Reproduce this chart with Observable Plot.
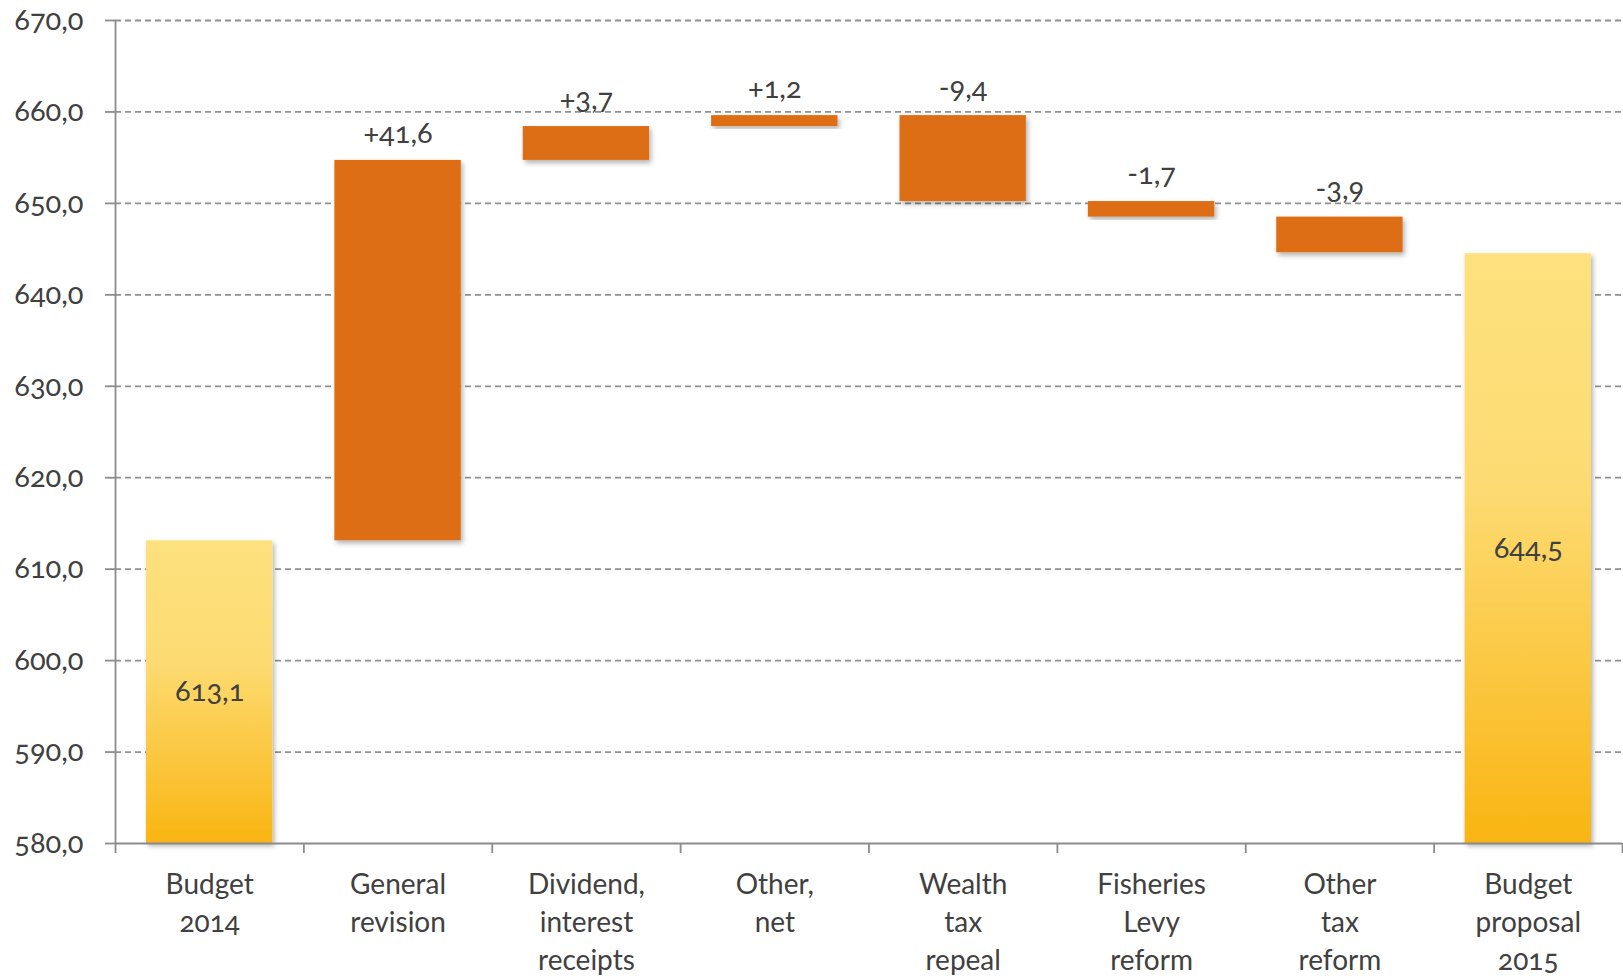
<!DOCTYPE html>
<html>
<head>
<meta charset="utf-8">
<script src="https://cdn.jsdelivr.net/npm/d3@7"></script>
<script src="https://cdn.jsdelivr.net/npm/@observablehq/plot@0.6"></script>
<style>
  html, body { margin: 0; padding: 0; background: #fff; }
  #chart svg { display: block; font-family: Lato, "Open Sans", sans-serif; font-feature-settings: "onum"; }
</style>
</head>
<body>
<div id="chart"></div>
<script>
// ---- data ----
const categories = [
  "Budget\n2014",
  "General\nrevision",
  "Dividend,\ninterest\nreceipts",
  "Other,\nnet",
  "Wealth\ntax\nrepeal",
  "Fisheries\nLevy\nreform",
  "Other\ntax\nreform",
  "Budget\nproposal\n2015"
];
const kinds = ["total", "delta", "delta", "delta", "delta", "delta", "delta", "total"];
const values = [613.1, 41.6, 3.7, 1.2, -9.4, -1.7, -3.9, 644.5];
const yTicks = [580, 590, 600, 610, 620, 630, 640, 650, 660, 670];
const yBase = 580;

// ---- build waterfall table ----
let running = 0;
const rows = categories.map((c, i) => {
  const v = values[i];
  let lo, hi;
  if (kinds[i] === "total") {
    lo = yBase; hi = v; running = v;
  } else {
    const prev = running;
    running = prev + v;
    lo = Math.min(prev, running); hi = Math.max(prev, running);
  }
  return {i, cat: c, kind: kinds[i], value: v, lo, hi};
});
const totals = rows.filter(d => d.kind === "total");
const deltas = rows.filter(d => d.kind === "delta");
const fmt = v => v.toFixed(1).replace(".", ",");
const fmtSigned = v => (v > 0 ? "+" : "-") + Math.abs(v).toFixed(1).replace(".", ",");
const txt = "#404040";
const axisGray = "#8c8c8c";

const plot = Plot.plot({
  width: 1623,
  height: 979,
  marginTop: 20,
  marginLeft: 115,
  marginRight: 1,
  marginBottom: 136,
  style: {fontFamily: "Lato, 'Open Sans', sans-serif", color: txt, background: "#fff"},
  x: {type: "linear", domain: [0, categories.length], axis: null},
  y: {domain: [580, 670], axis: null},
  marks: [
    Plot.ruleY(yTicks.slice(1), {stroke: "#909090", strokeWidth: 1.8, strokeDasharray: "6,4"}),
    Plot.rectY(totals, {
      x1: d => d.i, x2: d => d.i + 1, y1: "lo", y2: "hi",
      insetLeft: 31, insetRight: 31, fill: "url(#totGrad)"
    }),
    Plot.rectY(deltas, {
      x1: d => d.i, x2: d => d.i + 1, y1: "lo", y2: "hi",
      insetLeft: 31, insetRight: 31, fill: "#DD6E15"
    }),
    Plot.ruleY([yBase], {stroke: axisGray, strokeWidth: 1.8}),
    Plot.ruleX([0], {y1: 580, y2: 670, stroke: axisGray, strokeWidth: 1.8}),
    // y axis
    Plot.axisY({
      ticks: yTicks, tickFormat: fmt, tickSize: 10, tickPadding: 22,
      fontSize: 29, stroke: axisGray, strokeWidth: 1.8, fill: txt, strokeOpacity: 1
    }),
    // x axis: boundary ticks
    Plot.axisX({
      ticks: d3.range(categories.length + 1), tickFormat: () => "",
      tickSize: 10, stroke: axisGray, strokeWidth: 1.8, strokeOpacity: 1
    }),
    // x axis: category labels
    Plot.axisX({
      ticks: d3.range(categories.length).map(i => i + 0.5),
      tickFormat: t => categories[Math.floor(t)],
      tickSize: 0, tickPadding: 23, fontSize: 28, lineHeight: 1.36, fill: txt
    }),
    // labels
    Plot.text(totals, {
      x: d => d.i + 0.5, y: d => (d.lo + d.hi) / 2, text: d => fmt(d.value),
      fontSize: 29, fill: txt
    }),
    Plot.text(deltas, {
      x: d => d.i + 0.5, y: "hi", text: d => fmtSigned(d.value),
      dy: -27, fontSize: 29, fill: txt
    })
  ]
});

const svg = d3.select(plot);
const defs = svg.insert("defs", ":first-child");
const g = defs.append("linearGradient").attr("id", "totGrad")
  .attr("x1", 0).attr("y1", 0).attr("x2", 0).attr("y2", 1);
g.append("stop").attr("offset", "0").attr("stop-color", "#FDE17E");
g.append("stop").attr("offset", "0.4").attr("stop-color", "#FDDB72");
g.append("stop").attr("offset", "1").attr("stop-color", "#F9B512");
const f = defs.append("filter").attr("id", "shadow")
  .attr("x", "-10%").attr("y", "-10%").attr("width", "130%").attr("height", "130%");
f.append("feDropShadow").attr("dx", 2).attr("dy", 3).attr("stdDeviation", 2.5)
  .attr("flood-color", "#000").attr("flood-opacity", 0.3);
svg.selectAll("g[aria-label='rect'] rect").attr("filter", "url(#shadow)");

document.getElementById("chart").appendChild(plot);
</script>
</body>
</html>
